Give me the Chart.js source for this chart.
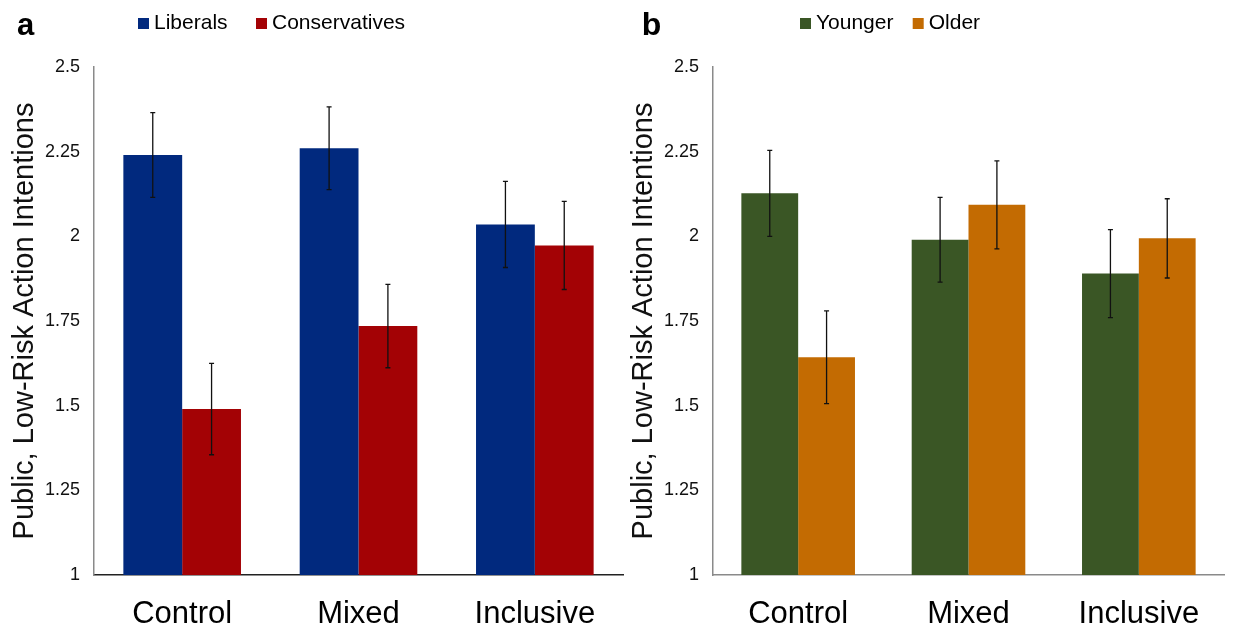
<!DOCTYPE html>
<html>
<head>
<meta charset="utf-8">
<script src="https://cdn.jsdelivr.net/npm/chart.js@4/dist/chart.umd.min.js"></script>
<style>
  html, body { margin: 0; padding: 0; background: #fff; }
  body { width: 1238px; height: 629px; position: relative; overflow: hidden; }
  canvas { position: absolute; top: 0; }
  #panelA { left: 0; }
  #panelB { left: 615px; }
</style>
</head>
<body>
<canvas id="panelA" width="630" height="629"></canvas>
<canvas id="panelB" width="623" height="629"></canvas>
<script>
// data
const categories = ['Control', 'Mixed', 'Inclusive'];
const yTicks = [1, 1.25, 1.5, 1.75, 2, 2.25, 2.5];
const yTitle = 'Public, Low-Risk Action Intentions';

const liberals = [2.24, 2.26, 2.035];
const liberalsErr = [0.125, 0.122, 0.127];
const conservatives = [1.49, 1.735, 1.973];
const conservativesErr = [0.135, 0.123, 0.13];

const younger = [2.127, 1.99, 1.89];
const youngerErr = [0.127, 0.125, 0.13];
const older = [1.643, 2.093, 1.994];
const olderErr = [0.137, 0.13, 0.117];

const FONT = "'Liberation Sans', Arial, Helvetica, sans-serif";

// error bars from dataset.err
const errorBars = {
    id: 'errorBars',
    afterDatasetsDraw(chart) {
        const ctx = chart.ctx;
        const y = chart.scales.y;
        ctx.save();
        ctx.strokeStyle = '#111';
        ctx.lineWidth = 1.3;
        chart.data.datasets.forEach((ds, i) => {
            const meta = chart.getDatasetMeta(i);
            meta.data.forEach((bar, j) => {
                const v = ds.data[j], e = ds.err[j];
                const top = y.getPixelForValue(v + e);
                const bot = y.getPixelForValue(v - e);
                ctx.beginPath();
                ctx.moveTo(bar.x, top); ctx.lineTo(bar.x, bot);
                ctx.moveTo(bar.x - 2.5, top); ctx.lineTo(bar.x + 2.5, top);
                ctx.moveTo(bar.x - 2.5, bot); ctx.lineTo(bar.x + 2.5, bot);
                ctx.stroke();
            });
        });
        ctx.restore();
    }
};

// panel letter and legend row
const header = {
    id: 'header',
    afterDraw(chart, args, opts) {
        const ctx = chart.ctx;
        ctx.save();
        ctx.fillStyle = '#000';
        ctx.textBaseline = 'alphabetic';
        ctx.font = 'bold ' + opts.letterSize + 'px ' + FONT;
        ctx.fillText(opts.letter, opts.letterX, 35);
        ctx.font = '21px ' + FONT;
        chart.data.datasets.forEach((ds, i) => {
            const x = opts.itemX[i];
            ctx.fillStyle = ds.backgroundColor;
            ctx.fillRect(x, 18, 11, 11);
            ctx.fillStyle = '#000';
            ctx.fillText(ds.label, x + 16, 28.5);
        });
        ctx.restore();
    }
};

function makePanel(id, sets, p) {
    return new Chart(document.getElementById(id), {
        type: 'bar',
        data: {
            labels: categories,
            datasets: sets.map(s => ({
                label: s.label,
                data: s.data,
                err: s.err,
                backgroundColor: s.color,
                borderWidth: 0,
                categoryPercentage: 0.667,
                barPercentage: 1
            }))
        },
        options: {
            responsive: false,
            animation: false,
            devicePixelRatio: 1,
            layout: { padding: { top: 67, right: p.padRight, bottom: 0, left: 0 } },
            plugins: {
                legend: { display: false },
                tooltip: { enabled: false },
                header: p.header
            },
            scales: {
                x: {
                    grid: { display: false, drawTicks: false },
                    border: { display: true, color: p.xAxisColor, width: 1.5 },
                    ticks: { color: '#000', padding: 21, font: { family: FONT, size: 31 } },
                    afterFit: s => { s.height = 54; }
                },
                y: {
                    min: 1,
                    max: 2.5,
                    grid: { display: false, drawTicks: false },
                    border: { display: true, color: '#8a8a8a', width: 1.5 },
                    afterBuildTicks: s => { s.ticks = yTicks.map(v => ({ value: v })); },
                    ticks: { color: '#111', padding: 14, font: { family: FONT, size: 18 }, callback: v => String(v) },
                    title: {
                        display: true,
                        text: yTitle,
                        color: '#111',
                        font: { family: FONT, size: 29 },
                        padding: { top: p.titlePad, bottom: 0 }
                    },
                    afterFit: s => { s.width = p.axisWidth; }
                }
            }
        },
        plugins: [errorBars, header]
    });
}

document.addEventListener('DOMContentLoaded', () => {
    // panel a: political orientation
    makePanel('panelA', [
        { label: 'Liberals', data: liberals, err: liberalsErr, color: '#01297e' },
        { label: 'Conservatives', data: conservatives, err: conservativesErr, color: '#a30205' }
    ], {
        padRight: 7, axisWidth: 94, titlePad: 8, xAxisColor: '#222',
        header: { letter: 'a', letterX: 17, letterSize: 31, itemX: [138, 256] }
    });

    // panel b: age
    makePanel('panelB', [
        { label: 'Younger', data: younger, err: youngerErr, color: '#3a5625' },
        { label: 'Older', data: older, err: olderErr, color: '#c36b02' }
    ], {
        padRight: 14, axisWidth: 98, titlePad: 11.5, xAxisColor: '#8a8a8a',
        header: { letter: 'b', letterX: 26.7, letterSize: 32, itemX: [185, 297.7] }
    });
});
</script>
</body>
</html>
